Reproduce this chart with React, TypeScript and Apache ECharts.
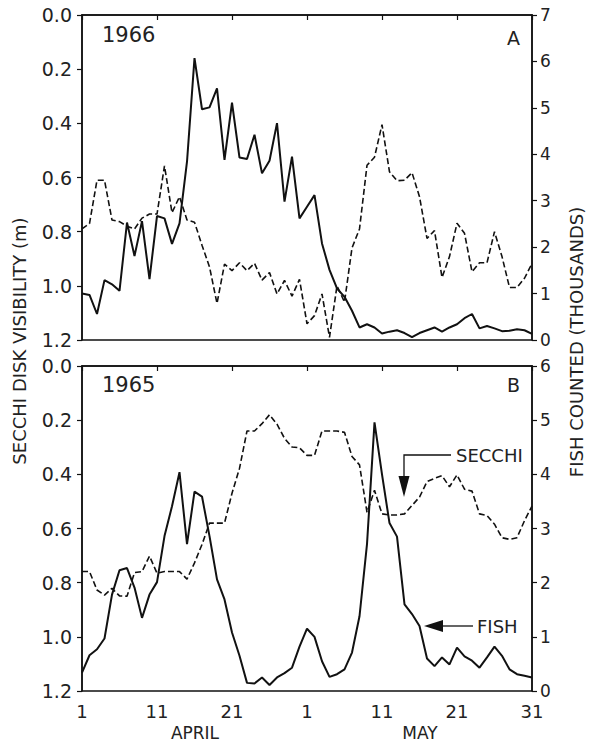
import React, { useEffect, useRef } from "react";
import * as echarts from "echarts";

// Day index 0..60 = April 1 .. May 31
const xTickLabels = ["1", "11", "21", "1", "11", "21", "31"];

// 1966 (panel A)
const secchi1966 = [
  0.79, 0.77, 0.61, 0.61, 0.757, 0.763, 0.78, 0.79, 0.75, 0.735,
  0.735, 0.557, 0.73, 0.671, 0.757, 0.765, 0.85, 0.93, 1.065, 0.92,
  0.944, 0.915, 0.944, 0.917, 0.979, 0.951, 1.03, 0.98, 1.038, 0.976,
  1.14, 1.11, 1.03, 1.19, 1.0, 1.06, 0.86, 0.79, 0.555, 0.525,
  0.405, 0.579, 0.612, 0.61, 0.582, 0.671, 0.825, 0.796, 0.969, 0.892,
  0.769, 0.806, 0.948, 0.915, 0.915, 0.8, 0.892, 1.006, 1.006, 0.972,
  0.917,
];
const fish1966 = [
  1.0, 0.97, 0.56, 1.29, 1.2, 1.06, 2.53, 1.81, 2.56, 1.31,
  2.67, 2.62, 2.07, 2.51, 3.84, 6.07, 4.97, 5.01, 5.42, 3.88,
  5.11, 3.93, 3.9, 4.42, 3.59, 3.86, 4.67, 2.98, 3.95, 2.62,
  2.87, 3.12, 2.08, 1.51, 1.11, 0.93, 0.63, 0.27, 0.34, 0.27,
  0.14, 0.18, 0.21, 0.15, 0.06, 0.15, 0.21, 0.27, 0.18, 0.27,
  0.34, 0.47, 0.56, 0.25, 0.3, 0.25, 0.19, 0.2, 0.23, 0.21,
  0.13,
];

// 1965 (panel B)
const secchi1965 = [
  0.759, 0.759, 0.827, 0.846, 0.821, 0.849, 0.85, 0.763, 0.759, 0.702,
  0.765, 0.759, 0.759, 0.759, 0.787, 0.727, 0.659, 0.58, 0.58, 0.58,
  0.47, 0.378, 0.24, 0.24, 0.213, 0.18, 0.215, 0.267, 0.299, 0.302,
  0.33, 0.33, 0.24, 0.24, 0.24, 0.245, 0.334, 0.365, 0.54, 0.459,
  0.546, 0.55, 0.55, 0.546, 0.515, 0.484, 0.427, 0.415, 0.405, 0.446,
  0.402, 0.455, 0.462, 0.546, 0.552, 0.584, 0.634, 0.64, 0.634, 0.571,
  0.517,
];
const fish1965 = [
  0.34, 0.66, 0.77, 0.97, 1.78, 2.23, 2.27, 1.91, 1.35, 1.78,
  2.01, 2.86, 3.41, 4.04, 2.71, 3.68, 3.59, 2.86, 2.06, 1.69,
  1.08, 0.65, 0.15, 0.14, 0.25, 0.11, 0.25, 0.33, 0.43, 0.82,
  1.15, 1.0, 0.55, 0.26, 0.31, 0.4, 0.71, 1.38, 2.71, 4.96,
  4.0, 3.1, 2.85, 1.6, 1.42, 1.2, 0.6, 0.46, 0.62, 0.49,
  0.8, 0.64, 0.56, 0.43, 0.62, 0.82, 0.65, 0.4, 0.31, 0.28,
  0.25,
];

const FONT = "DejaVu Sans";
const INK = "#111";
const TXT = "#222";

function toPairs(arr: number[]) {
  return arr.map((v, i) => [i, v]);
}

export default function App() {
  const ref = useRef<HTMLDivElement>(null);

  useEffect(() => {
    if (!ref.current) return;
    const chart = echarts.init(ref.current, null, { renderer: "svg" });

    const axisLine = { show: true, lineStyle: { color: INK, width: 1.5 } };
    const xAxisBase = (gridIndex: number, showLabel: boolean) => ({
      gridIndex,
      type: "value" as const,
      min: 0,
      max: 60,
      interval: 10,
      axisLine,
      axisTick: { show: true, length: 5, lineStyle: { color: INK, width: 1.2 } },
      splitLine: { show: false },
      axisLabel: {
        show: showLabel,
        margin: 11,
        fontFamily: FONT,
        fontSize: 18,
        color: TXT,
        formatter: (v: number) => xTickLabels[Math.round(v / 10)] ?? "",
      },
    });
    const leftAxis = (gridIndex: number) => ({
      gridIndex,
      type: "value" as const,
      position: "left" as const,
      inverse: true,
      min: 0,
      max: 1.2,
      interval: 0.2,
      axisLine,
      axisTick: { show: true, length: 5, lineStyle: { color: INK, width: 1.2 } },
      splitLine: { show: false },
      axisLabel: {
        margin: 10,
        fontFamily: FONT,
        fontSize: 19,
        color: TXT,
        formatter: (v: number) => v.toFixed(1),
      },
    });
    const rightAxis = (gridIndex: number, max: number) => ({
      gridIndex,
      type: "value" as const,
      position: "right" as const,
      min: 0,
      max,
      interval: 1,
      axisLine,
      axisTick: { show: true, length: 5, lineStyle: { color: INK, width: 1.2 } },
      splitLine: { show: false },
      axisLabel: {
        margin: 8,
        fontFamily: FONT,
        fontSize: 17,
        color: TXT,
      },
    });

    const dashed = { type: [6, 3] as any, width: 1.6, color: INK };
    const solid = { type: "solid" as const, width: 2, color: INK };

    const txt = (text: string, x: number, y: number, size: number, align = "left", extra: any = {}) => ({
      type: "text",
      x,
      y,
      ...extra,
      style: {
        text,
        fontFamily: FONT,
        fontSize: size,
        fill: TXT,
        align,
        verticalAlign: "middle",
      },
    });

    chart.setOption({
      animation: false,
      backgroundColor: "#fff",
      grid: [
        { left: 82, top: 15, width: 450, height: 325, show: true, borderColor: INK, borderWidth: 1.5 },
        { left: 82, top: 366, width: 450, height: 325, show: true, borderColor: INK, borderWidth: 1.5 },
      ],
      xAxis: [xAxisBase(0, false), xAxisBase(1, true)],
      yAxis: [leftAxis(0), rightAxis(0, 7), leftAxis(1), rightAxis(1, 6)],
      series: [
        { type: "line", xAxisIndex: 0, yAxisIndex: 0, data: toPairs(secchi1966), symbol: "none", lineStyle: dashed },
        { type: "line", xAxisIndex: 0, yAxisIndex: 1, data: toPairs(fish1966), symbol: "none", lineStyle: solid },
        { type: "line", xAxisIndex: 1, yAxisIndex: 2, data: toPairs(secchi1965), symbol: "none", lineStyle: dashed },
        { type: "line", xAxisIndex: 1, yAxisIndex: 3, data: toPairs(fish1965), symbol: "none", lineStyle: solid },
      ],
      graphic: [
        txt("1966", 102, 35, 21),
        txt("A", 507, 38, 19),
        txt("1965", 102, 385, 21),
        txt("B", 507, 385, 19),
        txt("SECCHI DISK VISIBILITY (m)", 19, 341, 18, "center", { rotation: Math.PI / 2 }),
        txt("FISH COUNTED (THOUSANDS)", 576, 342, 18, "center", { rotation: Math.PI / 2 }),
        txt("APRIL", 195, 733, 17, "center"),
        txt("MAY", 420, 733, 17, "center"),
        {
          type: "polyline",
          shape: { points: [[451, 455], [404, 455], [404, 478]] },
          style: { stroke: INK, lineWidth: 1.3, fill: "none" },
        },
        {
          type: "polygon",
          shape: { points: [[398.5, 476], [409.5, 476], [404, 497]] },
          style: { fill: INK },
        },
        txt("SECCHI", 456, 455, 18),
        {
          type: "line",
          shape: { x1: 441, y1: 626, x2: 473, y2: 626 },
          style: { stroke: INK, lineWidth: 1.3 },
        },
        {
          type: "polygon",
          shape: { points: [[424, 626], [443, 620], [443, 632]] },
          style: { fill: INK },
        },
        txt("FISH", 477, 626, 18),
      ],
    });

    return () => chart.dispose();
  }, []);

  return (
    <div
      ref={ref}
      style={{ position: "absolute", left: 0, top: 0, width: 594, height: 743, background: "#fff" }}
    />
  );
}
